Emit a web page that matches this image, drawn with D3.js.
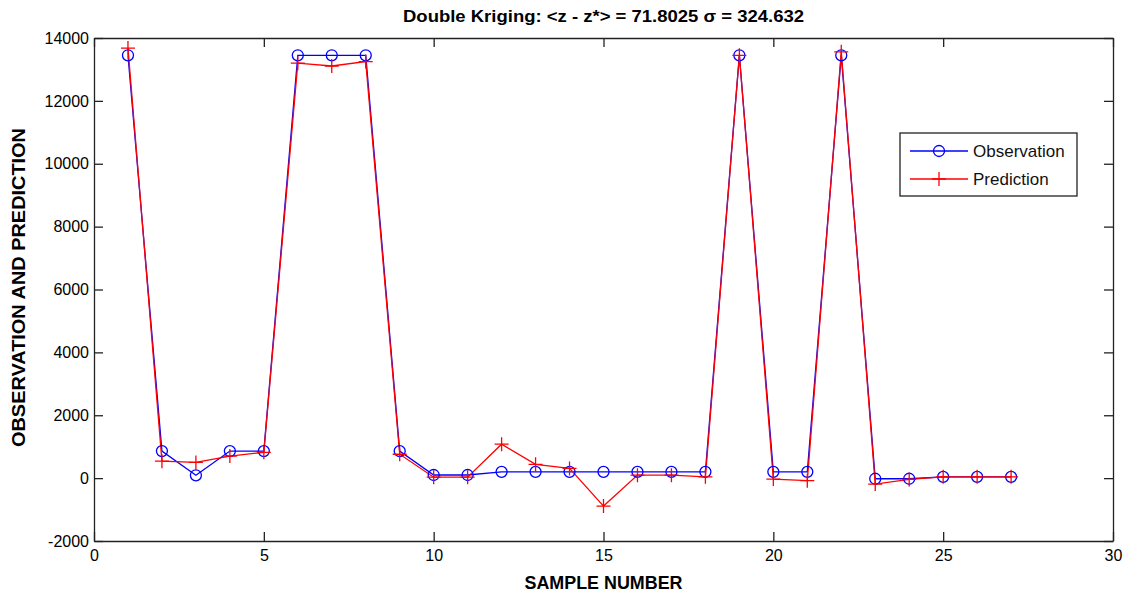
<!DOCTYPE html>
<html lang="en">
<head>
  <meta charset="UTF-8">
  <title>Double Kriging</title>
  <script src="https://d3js.org/d3.v7.min.js"></script>
  <style>
    body { margin: 0; background: #fff; }
    svg { display: block; }
    .tick text { font-family: "Liberation Sans", Arial, sans-serif; font-size: 16px; fill: #000; }
  </style>
</head>
<body>
  <div id="chart"></div>
  <script>
    // sample numbers 1..27
    const samples = d3.range(1, 28);
    const observation = [13450, 860, 90, 860, 860, 13450, 13450, 13450, 860, 100,
                         100, 200, 200, 200, 200, 200, 200, 200, 13450, 200,
                         200, 13450, -20, -20, 40, 40, 40];
    const prediction = [13680, 540, 500, 700, 820, 13200, 13110, 13250, 760, 30,
                        30, 1080, 440, 310, -890, 95, 95, 40, 13450, -30,
                        -80, 13560, -190, -40, 40, 40, 40];
    const xTicks = [0, 5, 10, 15, 20, 25, 30];
    const yTicks = [-2000, 0, 2000, 4000, 6000, 8000, 10000, 12000, 14000];
    const seriesNames = ["Observation", "Prediction"];

    const width = 1128, height = 597;
    const margin = {left: 94, right: 15, top: 38, bottom: 56};

    const svg = d3.select("#chart").append("svg")
      .attr("width", width).attr("height", height);

    const x = d3.scaleLinear().domain([0, 30]).range([margin.left, width - margin.right]);
    const y = d3.scaleLinear().domain([-2000, 14000]).range([height - margin.bottom, margin.top]);

    const axisColor = "#222";
    const tk = 9;
    const fmt = d => String(d);

    // axes (MATLAB style, ticks inward on all four sides)
    const gx = svg.append("g").attr("transform", `translate(0,${y(-2000)})`)
      .call(d3.axisBottom(x).tickValues(xTicks).tickFormat(fmt).tickSizeInner(-tk).tickSizeOuter(0).tickPadding(6));
    const gxt = svg.append("g").attr("transform", `translate(0,${y(14000)})`)
      .call(d3.axisTop(x).tickValues(xTicks).tickSizeInner(-tk).tickSizeOuter(0).tickFormat(""));
    const gy = svg.append("g").attr("transform", `translate(${x(0)},0)`)
      .call(d3.axisLeft(y).tickValues(yTicks).tickFormat(fmt).tickSizeInner(-tk).tickSizeOuter(0).tickPadding(5));
    const gyr = svg.append("g").attr("transform", `translate(${x(30)},0)`)
      .call(d3.axisRight(y).tickValues(yTicks).tickSizeInner(-tk).tickSizeOuter(0).tickFormat(""));
    [gx, gxt, gy, gyr].forEach(g => {
      g.selectAll("path").attr("stroke", axisColor).attr("stroke-width", 1.3);
      g.selectAll("line").attr("stroke", axisColor).attr("stroke-width", 1.3);
    });
    gx.selectAll("text").attr("dy", "0.9em");

    // data lines
    const line = d3.line().x((d, i) => x(samples[i])).y(d => y(d));

    svg.append("path").datum(observation)
      .attr("fill", "none").attr("stroke", "#0000ff").attr("stroke-width", 1.3)
      .attr("d", line);
    svg.append("path").datum(prediction)
      .attr("fill", "none").attr("stroke", "#ff0000").attr("stroke-width", 1.3)
      .attr("d", line);

    svg.append("g").selectAll("circle").data(observation).join("circle")
      .attr("cx", (d, i) => x(samples[i])).attr("cy", d => y(d))
      .attr("r", 5.5).attr("fill", "none").attr("stroke", "#0000ff").attr("stroke-width", 1.3);

    const cross = 7;
    svg.append("g").selectAll("path").data(prediction).join("path")
      .attr("d", (d, i) => {
        const cx = x(samples[i]), cy = y(d);
        return `M${cx - cross},${cy}H${cx + cross}M${cx},${cy - cross}V${cy + cross}`;
      })
      .attr("stroke", "#ff0000").attr("stroke-width", 1.3);

    // title and axis labels
    svg.append("text")
      .attr("x", (x(0) + x(30)) / 2).attr("y", 22)
      .attr("text-anchor", "middle")
      .attr("font-family", "'Liberation Sans', Arial, sans-serif")
      .attr("font-weight", "bold").attr("font-size", 17)
      .attr("textLength", 401).attr("lengthAdjust", "spacingAndGlyphs")
      .text("Double Kriging: <z - z*> = 71.8025  σ = 324.632");

    svg.append("text")
      .attr("x", (x(0) + x(30)) / 2).attr("y", 589)
      .attr("text-anchor", "middle")
      .attr("font-family", "'Liberation Sans', Arial, sans-serif")
      .attr("font-weight", "bold").attr("font-size", 18)
      .attr("textLength", 158).attr("lengthAdjust", "spacingAndGlyphs")
      .text("SAMPLE NUMBER");

    svg.append("text")
      .attr("transform", `translate(25,${(y(-2000) + y(14000)) / 2 - 2}) rotate(-90)`)
      .attr("text-anchor", "middle")
      .attr("font-family", "'Liberation Sans', Arial, sans-serif")
      .attr("font-weight", "bold").attr("font-size", 18)
      .attr("textLength", 319).attr("lengthAdjust", "spacingAndGlyphs")
      .text("OBSERVATION AND PREDICTION");

    // legend
    const lg = svg.append("g").attr("transform", "translate(900,133)");
    lg.append("rect").attr("width", 177).attr("height", 63)
      .attr("fill", "#fff").attr("stroke", axisColor).attr("stroke-width", 1.3);
    const colors = ["#0000ff", "#ff0000"];
    seriesNames.forEach((name, i) => {
      const yy = 18 + i * 28;
      lg.append("line").attr("x1", 10).attr("x2", 68).attr("y1", yy).attr("y2", yy)
        .attr("stroke", colors[i]).attr("stroke-width", 1.3);
      if (i === 0) {
        lg.append("circle").attr("cx", 39).attr("cy", yy).attr("r", 5.5)
          .attr("fill", "none").attr("stroke", colors[i]).attr("stroke-width", 1.3);
      } else {
        lg.append("path").attr("d", `M${39 - cross},${yy}H${39 + cross}M39,${yy - cross}V${yy + cross}`)
          .attr("stroke", colors[i]).attr("stroke-width", 1.3);
      }
      lg.append("text").attr("x", 73).attr("y", yy + 6)
        .attr("font-family", "'Liberation Sans', Arial, sans-serif").attr("font-size", 17)
        .attr("fill", "#111")
        .text(name);
    });
  </script>
</body>
</html>
